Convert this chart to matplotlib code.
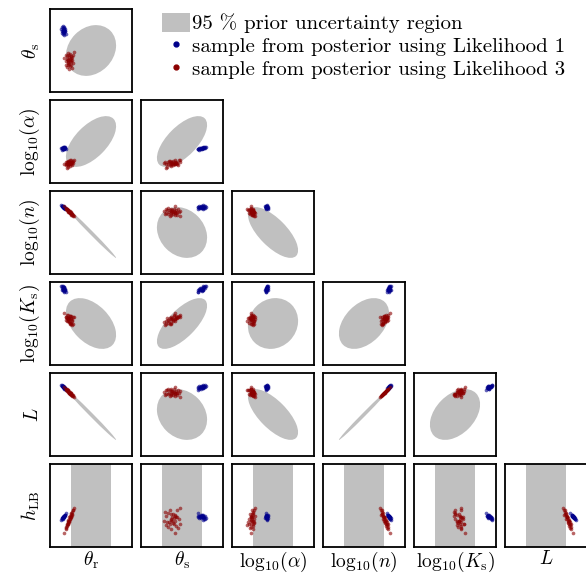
import numpy as np
import matplotlib.pyplot as plt
from matplotlib.patches import Ellipse, Patch
from matplotlib.lines import Line2D

plt.rcParams['font.family'] = 'serif'
plt.rcParams['font.serif'] = ['cmr10']
plt.rcParams['mathtext.fontset'] = 'cm'
plt.rcParams['axes.unicode_minus'] = False
plt.rcParams['axes.formatter.use_mathtext'] = True

labels = [r'$\theta_\mathrm{r}$', r'$\theta_\mathrm{s}$', r'$\mathrm{log}_{10}(\alpha)$',
          r'$\mathrm{log}_{10}(n)$', r'$\mathrm{log}_{10}(K_\mathrm{s})$', r'$L$', r'$h_\mathrm{LB}$']

# prior in scaled units (each axis shows mean +- 4 std)
prior_mean = [0.5, 0.5, 0.5, 0.5, 0.5, 0.5]
prior_std = [0.125, 0.125, 0.125, 0.125, 0.125, 0.125]
prior_corr = [
    [1.0, 0.2, 0.6, -0.995, -0.45, -0.995],
    [0.2, 1.0, 0.65, -0.2, 0.7, -0.2],
    [0.6, 0.65, 1.0, -0.7, 0.1, -0.7],
    [-0.995, -0.2, -0.7, 1.0, 0.4, 0.995],
    [-0.45, 0.7, 0.1, 0.4, 1.0, 0.4],
    [-0.995, -0.2, -0.7, 0.995, 0.4, 1.0],
]

# posterior samples, Likelihood 1
blue_theta_r = [0.140, 0.145, 0.150, 0.150, 0.155, 0.155, 0.157, 0.160, 0.160, 0.162, 0.165, 0.165,
                0.165, 0.168, 0.170, 0.170, 0.173, 0.175, 0.175, 0.180, 0.180, 0.185, 0.190, 0.163]
blue_theta_s = [0.76, 0.71, 0.78, 0.73, 0.74, 0.77, 0.70, 0.75, 0.72, 0.79, 0.73, 0.76,
                0.69, 0.74, 0.77, 0.72, 0.75, 0.71, 0.78, 0.74, 0.73, 0.76, 0.70, 0.75]
blue_log_alpha = [0.422, 0.402, 0.426, 0.418, 0.412, 0.424, 0.413, 0.416, 0.414, 0.437, 0.412, 0.425,
                  0.412, 0.416, 0.429, 0.422, 0.420, 0.416, 0.438, 0.420, 0.422, 0.436, 0.412, 0.422]
blue_log_n = [0.830, 0.825, 0.820, 0.820, 0.815, 0.815, 0.813, 0.810, 0.810, 0.808, 0.805, 0.805,
              0.805, 0.802, 0.800, 0.800, 0.797, 0.795, 0.795, 0.790, 0.790, 0.785, 0.780, 0.807]
blue_log_ks = [0.952, 0.899, 0.948, 0.928, 0.901, 0.939, 0.906, 0.914, 0.926, 0.947, 0.899, 0.937,
               0.885, 0.893, 0.940, 0.900, 0.906, 0.911, 0.923, 0.906, 0.910, 0.905, 0.876, 0.932]
blue_L = [0.861, 0.841, 0.857, 0.842, 0.840, 0.849, 0.826, 0.838, 0.829, 0.848, 0.827, 0.836,
          0.815, 0.827, 0.834, 0.819, 0.825, 0.811, 0.832, 0.815, 0.812, 0.816, 0.793, 0.835]
blue_h = [0.331, 0.352, 0.334, 0.349, 0.358, 0.342, 0.363, 0.362, 0.358, 0.351, 0.372, 0.356,
          0.375, 0.374, 0.360, 0.375, 0.378, 0.378, 0.369, 0.388, 0.380, 0.385, 0.408, 0.356]

# posterior samples, Likelihood 3
red_theta_r = [0.175, 0.190, 0.195, 0.200, 0.205, 0.205, 0.210, 0.215, 0.215, 0.220, 0.220, 0.225,
               0.225, 0.230, 0.230, 0.235, 0.235, 0.240, 0.240, 0.245, 0.245, 0.250, 0.250, 0.255,
               0.255, 0.260, 0.265, 0.265, 0.270, 0.275, 0.280, 0.295]
red_theta_s = [0.41, 0.33, 0.45, 0.37, 0.30, 0.40, 0.43, 0.35, 0.38, 0.47, 0.32, 0.39,
               0.36, 0.42, 0.28, 0.44, 0.34, 0.40, 0.37, 0.46, 0.31, 0.38, 0.41, 0.33,
               0.43, 0.36, 0.39, 0.29, 0.42, 0.44, 0.35, 0.48]
red_log_alpha = [0.226, 0.234, 0.222, 0.259, 0.186, 0.234, 0.256, 0.213, 0.250, 0.250, 0.194, 0.270,
                 0.234, 0.229, 0.238, 0.234, 0.266, 0.245, 0.208, 0.272, 0.232, 0.229, 0.282, 0.254,
                 0.238, 0.245, 0.219, 0.251, 0.258, 0.246, 0.266, 0.275]
red_log_n = [0.816, 0.792, 0.781, 0.788, 0.780, 0.789, 0.769, 0.776, 0.767, 0.765, 0.777, 0.751,
             0.763, 0.749, 0.761, 0.747, 0.750, 0.754, 0.733, 0.743, 0.734, 0.741, 0.735, 0.727,
             0.739, 0.716, 0.723, 0.720, 0.709, 0.716, 0.702, 0.693]
red_log_ks = [0.621, 0.542, 0.579, 0.576, 0.528, 0.608, 0.570, 0.567, 0.552, 0.604, 0.569, 0.531,
              0.556, 0.553, 0.523, 0.570, 0.530, 0.587, 0.502, 0.594, 0.489, 0.561, 0.556, 0.503,
              0.593, 0.495, 0.547, 0.487, 0.529, 0.576, 0.498, 0.574]
red_L = [0.831, 0.807, 0.796, 0.803, 0.795, 0.804, 0.784, 0.791, 0.782, 0.780, 0.792, 0.766,
         0.778, 0.764, 0.776, 0.762, 0.765, 0.769, 0.748, 0.758, 0.749, 0.756, 0.750, 0.742,
         0.754, 0.731, 0.738, 0.735, 0.724, 0.731, 0.717, 0.708]
red_h = [0.170, 0.238, 0.230, 0.212, 0.265, 0.275, 0.248, 0.280, 0.310, 0.282, 0.302, 0.285,
         0.325, 0.318, 0.308, 0.360, 0.300, 0.352, 0.342, 0.335, 0.375, 0.358, 0.378, 0.410,
         0.360, 0.392, 0.395, 0.425, 0.388, 0.440, 0.442, 0.470]

blue = [blue_theta_r, blue_theta_s, blue_log_alpha, blue_log_n, blue_log_ks, blue_L, blue_h]
red = [red_theta_r, red_theta_s, red_log_alpha, red_log_n, red_log_ks, red_L, red_h]

gray = '#c0c0c0'
k95 = np.sqrt(5.991)  # chi2(2) 95 %

W, H = 586, 574
fig = plt.figure(figsize=(W / 100, H / 100), dpi=100)

for i in range(6):
    yv = i + 1
    for j in range(i + 1):
        ax = fig.add_axes([(50 + 91 * j) / W, 1 - (9 + 91 * i + 83) / H, 82 / W, 83 / H])
        if yv < 6:
            sx, sy = prior_std[j], prior_std[yv]
            r = prior_corr[j][yv]
            cov = np.array([[sx**2, r * sx * sy], [r * sx * sy, sy**2]])
            vals, vecs = np.linalg.eigh(cov)
            ang = np.degrees(np.arctan2(vecs[1, 1], vecs[0, 1]))
            ax.add_patch(Ellipse((prior_mean[j], prior_mean[yv]),
                                 2 * k95 * np.sqrt(vals[1]), 2 * k95 * np.sqrt(vals[0]),
                                 angle=ang, facecolor=gray, edgecolor='none'))
        else:
            ax.axvspan(prior_mean[j] - 1.96 * prior_std[j], prior_mean[j] + 1.96 * prior_std[j],
                       color=gray, lw=0)
        ax.scatter(blue[j], blue[yv], s=7, color='darkblue', alpha=0.6, linewidths=0)
        ax.scatter(red[j], red[yv], s=7, color='darkred', alpha=0.6, linewidths=0)
        ax.set_xlim(0, 1)
        ax.set_ylim(0, 1)
        ax.set_xticks([])
        ax.set_yticks([])
        for sp in ax.spines.values():
            sp.set_linewidth(1.3)
        if j == 0:
            ax.set_ylabel(labels[yv], fontsize=14, labelpad=6)
        if i == 5:
            ax.set_xlabel(labels[j], fontsize=14, labelpad=2)

handles = [Patch(facecolor=gray, edgecolor='none'),
           Line2D([], [], ls='none', marker='o', ms=3.5, color='darkblue'),
           Line2D([], [], ls='none', marker='o', ms=3.5, color='darkred')]
names = ['95 % prior uncertainty region',
         'sample from posterior using Likelihood 1',
         'sample from posterior using Likelihood 3']
fig.legend(handles, names, loc='upper left', bbox_to_anchor=(162 / W, 1 - 13 / H),
           frameon=False, fontsize=15, handlelength=1.35, handleheight=1.0,
           handletextpad=0.1, labelspacing=0.12, borderpad=0, borderaxespad=0)

fig.savefig('out.png', dpi=100)
